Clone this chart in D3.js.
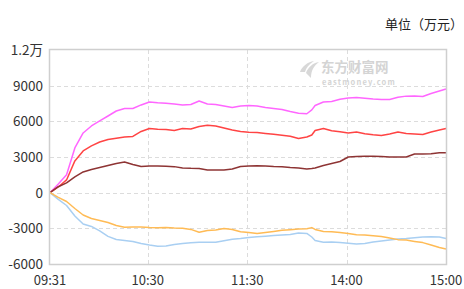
<!DOCTYPE html>
<html>
<head>
<meta charset="utf-8">
<script src="https://cdn.jsdelivr.net/npm/d3@7"></script>
<style>
    body { margin: 0; background: #fff; }
    svg { display: block; font-family: "Noto Sans CJK SC", "Noto Sans", sans-serif; }
</style>
</head>
<body>
<div id="chart"></div>
<script>
// minute index from 09:31 (0) to 15:00 (239), lunch break removed
const minutes = [0, 5, 10, 15, 20, 25, 30, 35, 40, 45, 50, 55, 60, 65, 70, 75, 80, 85, 90, 95,
    100, 105, 110, 115, 120, 125, 130, 135, 140, 145, 150, 155, 158,
    160, 165, 170, 175, 180, 185, 190, 195, 200, 205, 210, 215, 220, 225, 230, 235, 239];

const magenta = [0, 730, 1500, 3760, 5020, 5610, 6030, 6450, 6870, 7080,
    7080, 7380, 7630, 7560, 7520, 7460, 7380, 7420, 7710, 7460,
    7420, 7290, 7170, 7290, 7330, 7290, 7170, 7080, 7000, 6830,
    6680, 6640, 6960,
    7330, 7630, 7670, 7850, 7960, 8010, 7940, 7880, 7840, 7840, 8020, 8120, 8130, 8090, 8340, 8550,
    8720];
const red = [0, 480, 1070, 2670, 3510, 3930, 4260, 4470, 4580, 4680,
    4730, 5150, 5400, 5330, 5320, 5230, 5400, 5360, 5570, 5680,
    5610, 5440, 5270, 5150, 5080, 5060, 4980, 4910, 4830, 4740,
    4560, 4680, 4850,
    5230, 5400, 5210, 5130, 5020, 5100, 4950, 4870, 4810, 4940, 5100, 4980, 4940, 4890, 5100, 5270,
    5400];
const brown = [0, 500, 820, 1320, 1740, 1950, 2120, 2290, 2460, 2580,
    2370, 2200, 2250, 2250, 2220, 2190, 2080, 2050, 2040, 1910,
    1910, 1910, 1990, 2200, 2250, 2270, 2250, 2200, 2190, 2120,
    2080, 1990, 2030,
    2080, 2290, 2460, 2620, 3000, 3040, 3060, 3060, 3040, 3000, 3000, 3000, 3250, 3250, 3270, 3360,
    3360];
const orange = [0, -400, -740, -1330, -1880, -2170, -2340, -2510, -2760, -2910,
    -2880, -2880, -2930, -2950, -2930, -2970, -2990, -3090, -3330, -3180,
    -3140, -3010, -3090, -3280, -3360, -3430, -3350, -3260, -3160, -3110,
    -3050, -3040, -2940,
    -3090, -3260, -3280, -3350, -3430, -3540, -3570, -3620, -3680, -3810, -3950, -3990, -4100, -4200, -4400, -4610,
    -4740];
const blue = [0, -570, -1080, -1960, -2630, -2840, -3220, -3680, -3940, -4020,
    -4100, -4270, -4400, -4510, -4480, -4360, -4270, -4210, -4170, -4170,
    -4170, -4040, -3910, -3850, -3770, -3710, -3660, -3600, -3560, -3520,
    -3390, -3430, -3730,
    -4020, -4170, -4150, -4200, -4260, -4310, -4270, -4150, -4060, -3980, -3890, -3850, -3790, -3730, -3710, -3730,
    -3850];

const xTicks = [0, 59, 119, 179, 239];
const xTickLabels = ['09:31', '10:30', '11:30', '14:00', '15:00'];
const yTicks = [12000, 9000, 6000, 3000, 0, -3000, -6000];
const yTickLabels = ['1.2万', '9000', '6000', '3000', '0', '-3000', '-6000'];

const series = [
    { values: magenta, color: '#ff66ff' },
    { values: red, color: '#ff4444' },
    { values: brown, color: '#8e3434' },
    { values: blue, color: '#a9cff2' },
    { values: orange, color: '#ffbb55' }
];

const margin = { top: 50, right: 18, bottom: 25, left: 50 };
const width = 464;
const height = 289;

const svg = d3.select('#chart')
    .append('svg')
    .attr('width', width)
    .attr('height', height);

const x = d3.scaleLinear().domain([0, 239]).range([margin.left, width - margin.right]);
const y = d3.scaleLinear().domain([-6000, 12000]).range([height - margin.bottom, margin.top]);

// dashed grid
svg.append('g')
    .selectAll('line')
    .data(yTicks.slice(1, -1))
    .enter()
    .append('line')
    .attr('x1', x(0))
    .attr('x2', x(239))
    .attr('y1', d => Math.round(y(d)) + 0.5)
    .attr('y2', d => Math.round(y(d)) + 0.5)
    .attr('stroke', '#dcdcdc')
    .attr('stroke-dasharray', '4,3');

svg.append('g')
    .selectAll('line')
    .data(xTicks.slice(1, -1))
    .enter()
    .append('line')
    .attr('x1', d => Math.round(x(d)) + 0.5)
    .attr('x2', d => Math.round(x(d)) + 0.5)
    .attr('y1', y(12000))
    .attr('y2', y(-6000))
    .attr('stroke', '#dcdcdc')
    .attr('stroke-dasharray', '4,3');

// watermark
const wm = svg.append('g').attr('fill', '#d4d4d4');
wm.append('path')
    .attr('d', 'M300,72 C302,66 308,62 314,61 C309,64 306,68 305,72 Z M306,73 C308,67 313,63 319,62 C314,66 311,70 311,78 Z')
    .attr('opacity', 0.9);
wm.append('text')
    .attr('x', 321)
    .attr('y', 72)
    .attr('font-size', 13.5)
    .attr('font-weight', 'bold')
    .text('东方财富网');
wm.append('text')
    .attr('x', 322)
    .attr('y', 85)
    .attr('font-size', 7.5)
    .attr('font-weight', 'bold')
    .attr('letter-spacing', 1.2)
    .text('eastmoney.com');

// lines
const line = d3.line()
    .x((d, i) => x(minutes[i]))
    .y(d => y(d));

svg.append('g')
    .selectAll('path')
    .data(series)
    .enter()
    .append('path')
    .attr('fill', 'none')
    .attr('stroke', d => d.color)
    .attr('stroke-width', 1.5)
    .attr('stroke-linejoin', 'round')
    .attr('d', d => line(d.values));

// frame
svg.append('rect')
    .attr('x', x(0) - 0.5)
    .attr('y', y(12000) - 0.5)
    .attr('width', x(239) - x(0) + 1)
    .attr('height', y(-6000) - y(12000) + 1)
    .attr('fill', 'none')
    .attr('stroke', '#cfcfcf')
    .attr('stroke-width', 1.5);

// axis labels
svg.append('g')
    .selectAll('text')
    .data(yTicks)
    .enter()
    .append('text')
    .attr('x', 43)
    .attr('y', d => y(d))
    .attr('dy', '0.36em')
    .attr('text-anchor', 'end')
    .attr('font-size', 13.5)
    .attr('fill', '#333')
    .text((d, i) => yTickLabels[i]);

svg.append('g')
    .selectAll('text')
    .data(xTicks)
    .enter()
    .append('text')
    .attr('x', d => x(d))
    .attr('y', 285)
    .attr('text-anchor', 'middle')
    .attr('font-size', 13)
    .attr('fill', '#333')
    .text((d, i) => xTickLabels[i]);

svg.append('text')
    .attr('x', 463)
    .attr('y', 29)
    .attr('text-anchor', 'end')
    .attr('font-size', 13)
    .attr('fill', '#222')
    .text('单位（万元）');
</script>
</body>
</html>
